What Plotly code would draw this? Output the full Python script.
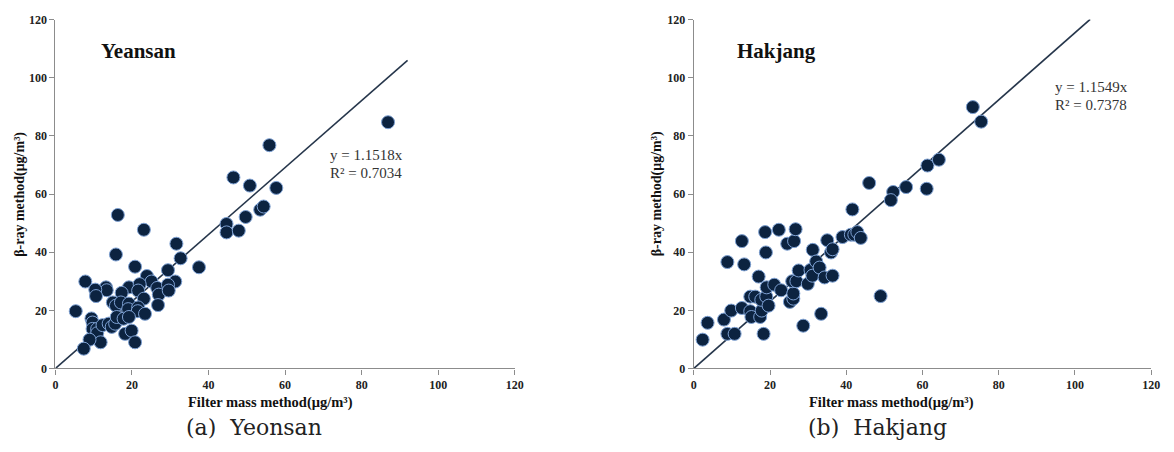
import plotly.graph_objects as go

# ---- data ----
yeonsan_x = [16.3, 23.1, 15.8, 31.6, 32.7, 20.8, 37.5, 29.4, 23.9, 25.1, 31.3, 7.8, 13.2, 13.4, 10.4, 10.6,
             19.2, 22.0, 21.6, 26.6, 27.0, 29.4, 29.6, 17.3, 23.1, 26.8, 15.0, 15.8, 17.1, 19.2, 19.0, 21.6,
             21.5, 23.4, 5.3, 9.4, 9.7, 9.7, 10.9, 10.9, 12.3, 13.9, 14.7, 15.6, 16.0, 17.8, 19.2, 18.2,
             19.9, 20.8, 11.8, 8.9, 7.4, 44.7, 44.7, 47.9, 49.7, 53.5, 54.4, 50.8, 57.7, 86.9, 55.9, 46.5]
yeonsan_y = [52.8, 47.7, 39.2, 42.9, 37.9, 35.0, 34.8, 33.8, 31.8, 29.9, 29.9, 29.9, 27.9, 26.9, 27.1, 24.9,
             27.9, 29.0, 26.8, 27.7, 25.4, 28.8, 26.8, 26.0, 24.0, 21.8, 22.7, 21.6, 22.7, 22.3, 20.4, 21.0,
             19.7, 18.8, 19.7, 17.2, 15.8, 13.6, 13.6, 12.1, 14.9, 15.4, 14.3, 15.4, 17.7, 17.1, 17.7, 11.9,
             13.0, 9.0, 9.0, 9.9, 6.8, 49.7, 46.8, 47.4, 52.1, 54.6, 55.7, 62.9, 62.1, 84.7, 76.8, 65.7]

hakjang_x = [2.3, 3.6, 7.9, 9.8, 8.8, 8.8, 10.7, 12.6, 13.2, 12.6, 14.8, 16.1, 14.8, 15.1, 17.0, 17.4,
             17.8, 17.7, 19.0, 18.3, 18.7, 18.9, 19.1, 19.6, 21.1, 22.9, 22.3, 24.5, 26.3, 26.7, 25.2, 26.1,
             26.1, 25.8, 26.9, 27.5, 28.7, 29.9, 30.6, 31.1, 31.2, 32.1, 33.0, 33.4, 34.3, 35.0, 36.0, 36.4,
             36.4, 39.0, 41.2, 42.1, 42.9, 43.8, 41.6, 49.0, 73.2, 75.4, 61.3, 64.3, 61.1, 46.0, 52.3, 55.7,
             51.7]
hakjang_y = [9.9, 15.7, 16.8, 19.9, 36.6, 11.9, 11.9, 43.8, 35.8, 20.8, 24.7, 24.7, 19.7, 17.7, 31.6, 17.7,
             19.9, 23.6, 24.7, 11.9, 46.9, 39.9, 27.9, 21.6, 28.8, 26.9, 47.7, 42.9, 43.8, 47.9, 22.9, 24.0,
             25.8, 30.0, 30.0, 33.7, 14.7, 29.1, 33.9, 31.9, 40.8, 36.8, 34.7, 18.8, 31.3, 44.1, 39.9, 41.0,
             31.9, 45.2, 46.0, 46.0, 46.9, 44.9, 54.7, 24.9, 89.9, 84.9, 69.8, 71.8, 61.8, 63.8, 60.7, 62.4,
             57.9]

yeonsan_slope, yeonsan_fit_xmax = 1.1518, 92
hakjang_slope, hakjang_fit_xmax = 1.1549, 104
yeonsan_eq = ["y = 1.1518x", "R² = 0.7034"]
hakjang_eq = ["y = 1.1549x", "R² = 0.7378"]
axis_ticks = [0, 20, 40, 60, 80, 100, 120]

# ---- style ----
W, H = 1174, 452
SERIF = "Liberation Serif, Times New Roman, serif"
MARK_FILL = "#0c2340"
MARK_EDGE = "#7ea1d3"
LINE_COL = "#26364b"
AX_COL = "#8c8c8c"

fig = go.Figure()

def add_panel(idx, xs, ys, slope, xmax, title, eq, caption, xdom, ydom, layout_px):
    xa = "x" if idx == 1 else "x2"
    ya = "y" if idx == 1 else "y2"
    fig.add_trace(go.Scatter(x=[0, xmax], y=[0, slope * xmax], mode="lines",
                             line=dict(color=LINE_COL, width=1.6), xaxis=xa, yaxis=ya,
                             showlegend=False, hoverinfo="skip"))
    fig.add_trace(go.Scatter(x=xs, y=ys, mode="markers",
                             marker=dict(size=13, color=MARK_FILL, line=dict(color=MARK_EDGE, width=1)),
                             xaxis=xa, yaxis=ya, showlegend=False))
    axkw = dict(range=[0, 120], tickvals=axis_ticks, showgrid=False, zeroline=False,
                showline=True, linecolor=AX_COL, linewidth=1.2, ticks="outside", ticklen=5,
                tickcolor=AX_COL, tickfont=dict(family=SERIF, size=12, color="#222", weight="bold"),
                fixedrange=True)
    xkey = "xaxis" if idx == 1 else "xaxis2"
    ykey = "yaxis" if idx == 1 else "yaxis2"
    fig.update_layout(**{
        xkey: dict(domain=xdom, anchor=ya, **axkw),
        ykey: dict(domain=ydom, anchor=xa, **axkw),
    })
    x0, x1 = xdom
    title_x, eq_x, eq_y, xtitle_x, ytitle_dx, cap_x = layout_px
    fig.add_annotation(x=title_x / W, y=1 - 45 / H, xref="paper", yref="paper", text="<b>" + title + "</b>",
                       showarrow=False, xanchor="left", yanchor="middle",
                       font=dict(family=SERIF, size=21, color="#111"))
    fig.add_annotation(x=eq_x / W, y=1 - eq_y / H, xref="paper", yref="paper", text=eq[0], showarrow=False,
                       xanchor="left", yanchor="middle", font=dict(family=SERIF, size=15, color="#333"))
    fig.add_annotation(x=eq_x / W, y=1 - (eq_y + 18) / H, xref="paper", yref="paper", text=eq[1],
                       showarrow=False, xanchor="left", yanchor="middle",
                       font=dict(family=SERIF, size=15, color="#333"))
    fig.add_annotation(x=xtitle_x / W, y=1 - 408 / H, xref="paper", yref="paper",
                       text="<b>Filter mass method(μg/m³)</b>", showarrow=False,
                       xanchor="center", yanchor="middle", font=dict(family=SERIF, size=14.5, color="#111"))
    fig.add_annotation(x=x0 - ytitle_dx / W, y=(ydom[0] + ydom[1]) / 2, xref="paper", yref="paper",
                       text="<b>β-ray method(μg/m³)</b>", showarrow=False, textangle=-90,
                       xanchor="center", yanchor="middle", font=dict(family=SERIF, size=14, color="#111"))
    fig.add_annotation(x=cap_x / W, y=1 - 434 / H, xref="paper", yref="paper", text=caption,
                       showarrow=False, xanchor="center", yanchor="middle",
                       font=dict(family="DejaVu Serif, serif", size=22, color="#222"))

ydom = [(H - 373) / H, (H - 13) / H]
add_panel(1, yeonsan_x, yeonsan_y, yeonsan_slope, yeonsan_fit_xmax, "Yeansan", yeonsan_eq,
          "(a)  Yeonsan", [53 / W, 517 / W], ydom, (97, 328, 153, 270, 36, 254))
add_panel(2, hakjang_x, hakjang_y, hakjang_slope, hakjang_fit_xmax, "Hakjang", hakjang_eq,
          "(b)  Hakjang", [698 / W, 1160 / W], ydom, (740, 1061, 83, 898, 37, 884))

fig.update_layout(width=W, height=H, margin=dict(l=0, r=0, t=0, b=0),
                  paper_bgcolor="white", plot_bgcolor="white")

fig.write_html("out.html")
